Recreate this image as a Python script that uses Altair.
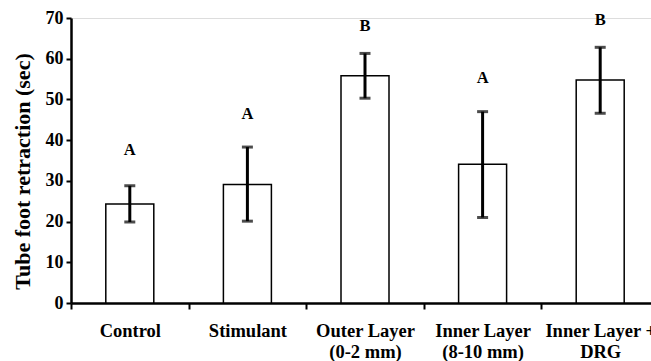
import altair as alt
import pandas as pd

categories = ["Control", "Stimulant", "Outer Layer|(0-2 mm)", "Inner Layer|(8-10 mm)", "Inner Layer +|DRG"]
means = [24.3, 29.1, 55.8, 34.1, 54.8]
err_low = [19.9, 20.1, 50.3, 21.0, 46.6]
err_high = [28.8, 38.3, 61.3, 47.0, 62.8]
letters = ["A", "A", "B", "A", "B"]
letter_pos = [37.7, 46.4, 68.0, 55.3, 69.4]

df = pd.DataFrame({
    "cat": categories, "mean": means, "lo": err_low, "hi": err_high,
    "letter": letters, "lpos": letter_pos,
})

FONT = "Liberation Serif"

x = alt.X("cat:N", sort=categories,
          scale=alt.Scale(range=[0, 588], paddingInner=0, paddingOuter=0),
          axis=alt.Axis(title=None, labelAngle=0, labelFont=FONT, labelFontWeight="bold",
                        labelFontSize=18.5, labelColor="black", labelPadding=12,
                        labelExpr="split(datum.label, '|')", labelLineHeight=21,
                        labelBaseline="top",
                        tickBand="extent", tickSize=6, tickWidth=2, tickColor="black",
                        domainWidth=2.5, domainColor="black"))

y_scale = alt.Scale(domain=[0, 70], nice=False)

bars = alt.Chart(df).mark_bar(size=48, fill="white", stroke="black", strokeWidth=1.5).encode(
    x=x,
    y=alt.Y("mean:Q", scale=y_scale,
            axis=alt.Axis(title="Tube foot retraction (sec)", values=[0, 10, 20, 30, 40, 50, 60, 70],
                          grid=False, labelFont=FONT, labelFontWeight="bold", labelFontSize=18,
                          labelColor="black", labelPadding=3, tickSize=5, tickWidth=2,
                          tickColor="black", domainWidth=2.5, domainColor="black",
                          titleFont=FONT, titleFontWeight="bold", titleFontSize=22,
                          titleColor="black", titleX=-49, titleY=153,
                          titleBaseline="middle", titleAngle=270)),
)

rules = alt.Chart(df).mark_rule(color="black", strokeWidth=3).encode(
    x=alt.X("cat:N", sort=categories), y="lo:Q", y2="hi:Q")

caps_hi = alt.Chart(df).mark_tick(color="black", size=11, thickness=3, orient="horizontal").encode(
    x=alt.X("cat:N", sort=categories), y="hi:Q")
caps_lo = alt.Chart(df).mark_tick(color="black", size=11, thickness=3, orient="horizontal").encode(
    x=alt.X("cat:N", sort=categories), y="lo:Q")

text = alt.Chart(df).mark_text(font=FONT, fontWeight="bold", fontSize=16.5, color="black",
                               baseline="middle").encode(
    x=alt.X("cat:N", sort=categories), y="lpos:Q", text="letter:N")

chart = alt.layer(bars, rules, caps_hi, caps_lo, text).properties(
    width=580, height=285,
    autosize=alt.AutoSizeParams(type="none"),
    padding={"left": 71, "top": 18, "right": 0, "bottom": 58},
).configure_view(stroke=None).configure(background="white")

chart.save("out.html", embed_options={"renderer": "svg", "actions": False})
